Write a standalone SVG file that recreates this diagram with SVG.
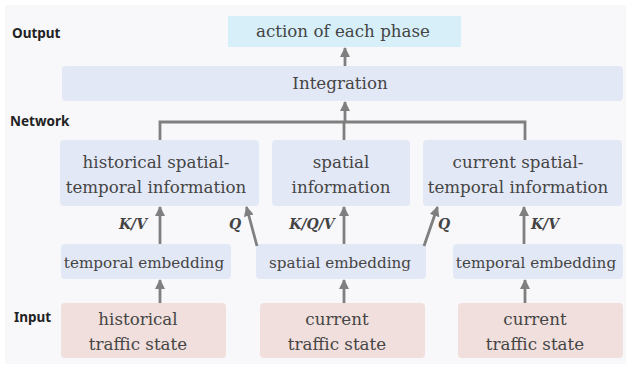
<svg xmlns="http://www.w3.org/2000/svg" width="626" height="365" viewBox="0 0 626 365">
  <defs>
    <marker id="head" viewBox="0 0 10 10" refX="9" refY="5" markerWidth="3.6" markerHeight="3.6" orient="auto" markerUnits="strokeWidth">
      <path d="M0,0 L10,5 L0,10 Z" fill="#7f7f7f"/>
    </marker>
    <style>
      .box { stroke: none; }
      .out { fill: #d6eff9; }
      .net { fill: #e3e8f6; }
      .inp { fill: #f0dfdc; }
      .t { font-family: "DejaVu Serif", "Liberation Serif", serif; font-size: 16.7px; fill: #454545; text-anchor: middle; }
      .s { font-size: 15.2px; }
      .lab { font-family: "Noto Sans", "Open Sans", sans-serif; font-size: 13.5px; font-weight: bold; fill: #222; }
      .kv { font-family: "DejaVu Serif", "Liberation Serif", serif; font-size: 14px; font-weight: bold; font-style: italic; fill: #444; text-anchor: middle; }
      .ln { stroke: #7f7f7f; stroke-width: 2.8; fill: none; }
      .ar { stroke: #7f7f7f; stroke-width: 2.8; fill: none; marker-end: url(#head); }
    </style>
  </defs>

  <!-- backdrop panel -->
  <rect x="5" y="5" width="621" height="359" fill="#f8f8fa"/>

  <!-- tier labels -->
  <text class="lab" x="12" y="38">Output</text>
  <text class="lab" x="10" y="126">Network</text>
  <text class="lab" x="14" y="322">Input</text>

  <!-- output -->
  <g id="output">
    <rect class="box out" x="228" y="16" width="233" height="31"/>
    <text class="t" x="343" y="37">action of each phase</text>
  </g>

  <g id="integration">
    <rect class="box net" x="62" y="66" width="561" height="35" rx="4"/>
    <text class="t" x="340" y="89">Integration</text>
  </g>

  <!-- information blocks -->
  <g id="hist-info">
    <rect class="box net" x="60" y="140" width="199" height="66" rx="4"/>
    <text class="t" x="156" y="168">historical spatial-</text>
    <text class="t" x="156" y="193">temporal information</text>
  </g>
  <g id="spatial-info">
    <rect class="box net" x="272" y="140" width="138" height="66" rx="4"/>
    <text class="t" x="341" y="168">spatial</text>
    <text class="t" x="341" y="193">information</text>
  </g>
  <g id="cur-info">
    <rect class="box net" x="423" y="140" width="199" height="66" rx="4"/>
    <text class="t" x="518" y="168">current spatial-</text>
    <text class="t" x="518" y="193">temporal information</text>
  </g>

  <!-- embeddings -->
  <g id="hist-emb">
    <rect class="box net" x="61" y="244" width="170" height="35" rx="4"/>
    <text class="t s" x="144" y="268">temporal embedding</text>
  </g>
  <g id="spatial-emb">
    <rect class="box net" x="256" y="244" width="170" height="35" rx="4"/>
    <text class="t s" x="340" y="268">spatial embedding</text>
  </g>
  <g id="cur-emb">
    <rect class="box net" x="453" y="244" width="170" height="35" rx="4"/>
    <text class="t s" x="536" y="268">temporal embedding</text>
  </g>

  <!-- inputs -->
  <g id="hist-state">
    <rect class="box inp" x="61" y="303" width="165" height="55" rx="4"/>
    <text class="t" x="138" y="325">historical</text>
    <text class="t" x="138" y="350">traffic state</text>
  </g>
  <g id="cur-state-1">
    <rect class="box inp" x="260" y="303" width="165" height="55" rx="4"/>
    <text class="t" x="337" y="325">current</text>
    <text class="t" x="337" y="350">traffic state</text>
  </g>
  <g id="cur-state-2">
    <rect class="box inp" x="458" y="303" width="165" height="55" rx="4"/>
    <text class="t" x="535" y="325">current</text>
    <text class="t" x="535" y="350">traffic state</text>
  </g>

  <!-- connectors -->
  <g id="connectors">
    <path class="ar" d="M345,66 V48"/>
    <path class="ln" d="M160,140 V122 H525 V140 M344,140 V122"/>
    <path class="ar" d="M345,122 V102"/>
    <path class="ar" d="M160,244 V207"/>
    <path class="ar" d="M257,246 L246.5,207"/>
    <path class="ar" d="M344,244 V207"/>
    <path class="ar" d="M424,246 L437.5,207"/>
    <path class="ar" d="M524,244 V207"/>
    <path class="ar" d="M160,303 V280"/>
    <path class="ar" d="M344,303 V280"/>
    <path class="ar" d="M525,303 V280"/>
  </g>

  <!-- attention roles -->
  <text class="kv" x="133" y="229">K/V</text>
  <text class="kv" x="235" y="229">Q</text>
  <text class="kv" x="312" y="229">K/Q/V</text>
  <text class="kv" x="444" y="229">Q</text>
  <text class="kv" x="545" y="229">K/V</text>
</svg>
